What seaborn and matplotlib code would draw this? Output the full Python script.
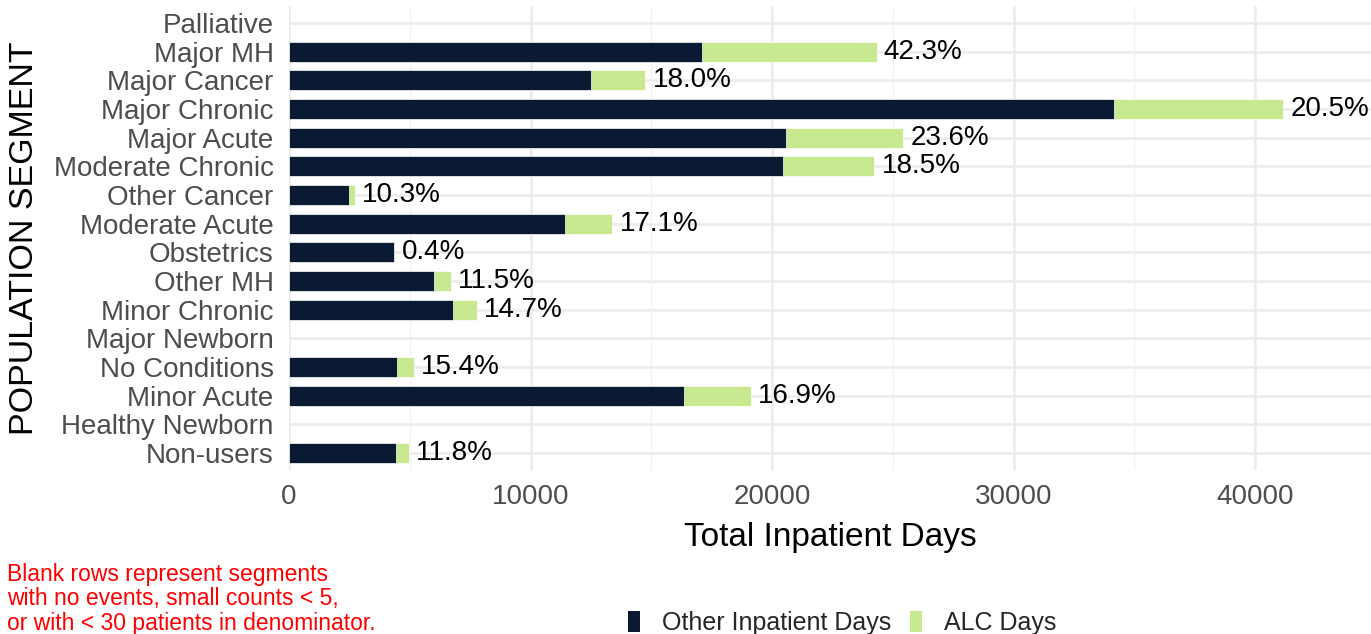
import numpy as np
import pandas as pd
import seaborn as sns
import matplotlib.pyplot as plt
from matplotlib.patches import Patch
from matplotlib.ticker import MultipleLocator

# Data
segments = ['Palliative', 'Major MH', 'Major Cancer', 'Major Chronic', 'Major Acute',
            'Moderate Chronic', 'Other Cancer', 'Moderate Acute', 'Obstetrics', 'Other MH',
            'Minor Chronic', 'Major Newborn', 'No Conditions', 'Minor Acute',
            'Healthy Newborn', 'Non-users']
other_days = [np.nan, 17100, 12500, 34160, 20580, 20450, 2480, 11430, 4350, 6000,
              6790, np.nan, 4470, 16360, np.nan, 4430]
alc_days = [np.nan, 7230, 2250, 7000, 4860, 3780, 255, 1955, 17, 690,
            998, np.nan, 690, 2765, np.nan, 523]
alc_labels = ['', '42.3%', '18.0%', '20.5%', '23.6%', '18.5%', '10.3%', '17.1%', '0.4%',
              '11.5%', '14.7%', '', '15.4%', '16.9%', '', '11.8%']

dark = '#0b1a33'
green = '#c9e990'

df = pd.DataFrame({'segment': segments, 'other': other_days, 'alc': alc_days})
df['total'] = df['other'] + df['alc']

sns.set_theme(style='whitegrid')
plt.rcParams['font.family'] = ['Liberation Sans', 'DejaVu Sans']

fig = plt.figure(figsize=(13.71, 6.34), dpi=100)
ax = fig.add_axes([289 / 1371, 1 - 470 / 634, (1371 - 289) / 1371, (470 - 6) / 634])

# stacked bars: total in green, then other days in dark on top
sns.barplot(data=df, y='segment', x='total', order=segments, orient='h', color=green,
            saturation=1, width=0.7, errorbar=None, edgecolor='white', linewidth=0.5, ax=ax)
sns.barplot(data=df, y='segment', x='other', order=segments, orient='h', color=dark,
            saturation=1, width=0.7, errorbar=None, edgecolor='white', linewidth=0.5, ax=ax)

# percent labels
for i, (tot, lab) in enumerate(zip(df['total'], alc_labels)):
    if lab and not np.isnan(tot):
        ax.text(tot + 300, i, lab, va='center', ha='left', fontsize=20, color='black')

ax.set_xlim(0, 44800)
ax.set_ylim(15.6, -0.6)
ax.xaxis.set_major_locator(MultipleLocator(10000))
ax.xaxis.set_minor_locator(MultipleLocator(5000))
ax.set_axisbelow(True)
ax.grid(which='major', axis='both', color='#ebebeb', linewidth=1.8)
ax.grid(which='minor', axis='x', color='#f2f2f2', linewidth=1.0)
for s in ax.spines.values():
    s.set_visible(False)
ax.tick_params(axis='both', which='both', length=0, labelsize=20, labelcolor='#4d4d4d')
ax.tick_params(axis='y', pad=11)
ax.tick_params(axis='x', pad=10)
ax.set_xlabel('Total Inpatient Days', fontsize=24, color='black', labelpad=9)
ax.set_ylabel('')
fig.text(25 / 1371, 1 - 238 / 634, 'POPULATION SEGMENT', rotation=90, fontsize=24.5,
         ha='center', va='center', color='black')

# footnote in red
fig.text(7 / 1371, 1 - 563 / 634,
         'Blank rows represent segments\nwith no events, small counts < 5,\nor with < 30 patients in denominator.',
         fontsize=16.5, color='red', ha='left', va='top', linespacing=1.08)

handles = [Patch(facecolor=dark, edgecolor='none', label='Other Inpatient Days'),
           Patch(facecolor=green, edgecolor='none', label='ALC Days')]
fig.legend(handles=handles, loc='center', bbox_to_anchor=(842 / 1371, 1 - 623 / 634),
           ncol=2, frameon=False, fontsize=18, handlelength=0.48, handleheight=0.92,
           handletextpad=0.88, columnspacing=0.76, borderpad=0)

fig.savefig('out.png', dpi=100)
